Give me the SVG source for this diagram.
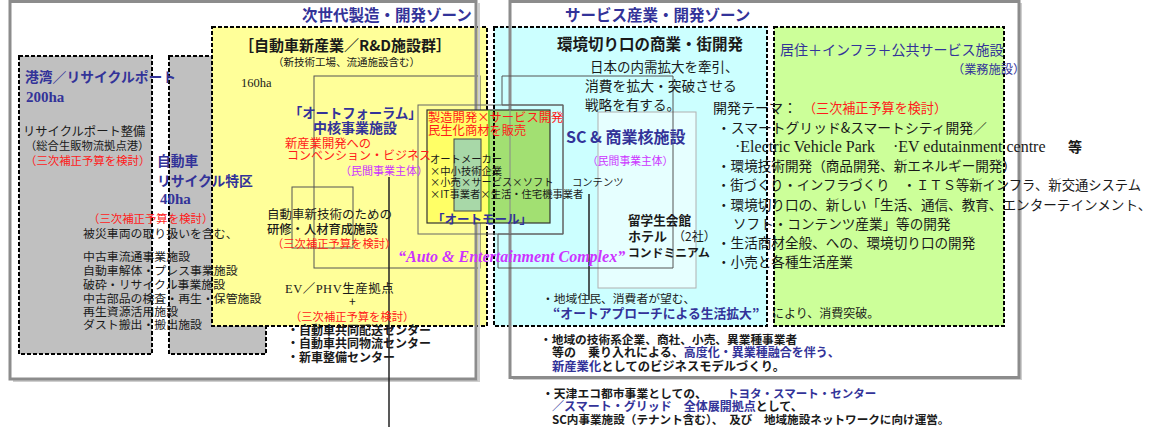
<svg xmlns="http://www.w3.org/2000/svg" width="1155" height="427" viewBox="0 0 1155 427">
<style>
text{font-family:'Noto Sans CJK JP',sans-serif;fill:#1a1a1a}
.b{font-weight:bold}
.nv{fill:#333399}
.rd{fill:#ff1a1a}
.pp{fill:#cc33ff}
.sf{font-family:'Liberation Serif','Noto Sans CJK JP',serif}
.dash{stroke:#000;stroke-width:2;stroke-dasharray:4 2}
.frame{fill:none;stroke:#8c8c8c;stroke-width:3}
.shadow{fill:none;stroke:#cfcfcf;stroke-width:2}
.edge{fill:none;stroke:#555;stroke-width:1}
.conn{stroke:#222;stroke-width:1.5;fill:none}
</style>
<rect width="1155" height="427" fill="#fff"/>

<!-- dashed zones -->
<g id="port">
<rect x="19" y="56" width="133" height="298" fill="#c0c0c0" class="dash"/>
</g>
<g id="recycle-zone">
<rect x="169" y="56" width="97" height="298" fill="#c0c0c0" class="dash"/>
</g>
<g id="rd-zone">
<rect x="212" y="27" width="275" height="299" fill="#ffff99" class="dash"/>
</g>
<g id="commerce-zone">
<rect x="494" y="27" width="273" height="299" fill="#ccffff" class="dash"/>
<rect x="598" y="112" width="98" height="176" fill="#e6ffff" stroke="#b0b0b0" stroke-width="1"/>
</g>
<g id="residential-zone">
<rect x="774" y="27" width="230" height="299" fill="#ccff99" class="dash"/>
</g>

<g id="auto-forum">
<rect x="314" y="76" width="166" height="192" fill="#ffe699" class="edge"/>
</g>
<g id="training">
<rect x="292" y="187" width="61" height="61" fill="#ffffff" class="edge"/>
</g>

<!-- frames -->
<g id="frames">
<polyline points="13,381 479,381 479,3" class="shadow"/>
<polyline points="513,379 1021,379 1021,3" class="shadow"/>
<rect x="10" y="1.5" width="466" height="377.5" class="frame"/>
<rect x="510" y="1.5" width="509" height="376" class="frame"/>
</g>

<g id="sc">
<polygon points="502,76 673,76 673,268 498,268 498,234 563,234 563,105 502,105" fill="#ffccff" class="edge"/>
<rect x="418" y="105" width="145" height="129" fill="none" stroke="#666" stroke-width="1"/>
</g>

<g id="auto-mall">
<rect x="427" y="110" width="63" height="113" fill="#ffff66"/>
<rect x="490" y="110" width="60" height="113" fill="#a2e072"/>
<rect x="427" y="110" width="123" height="113" fill="none" stroke="#333" stroke-width="1.2"/>
<line x1="489" y1="110" x2="489" y2="223" stroke="#55bb22" stroke-width="1.5"/>
<line x1="494" y1="105" x2="494" y2="223" class="dash" stroke-width="1.5"/>
<line x1="510" y1="105" x2="510" y2="234" stroke="#888" stroke-width="1"/>
<rect x="454" y="139" width="27" height="72" fill="#a8d8a8" stroke="#444" stroke-width="1"/>
</g>

<g id="connectors">
<line x1="389" y1="177" x2="389" y2="427" class="conn"/>
<line x1="589" y1="194" x2="589" y2="300" class="conn" stroke="#444" stroke-width="1.2"/>
</g>

<!-- zone titles -->
<g id="titles">
<text x="302" y="20.5" font-size="15.5" class="b nv">次世代製造・開発ゾーン</text>
<text x="565" y="20.5" font-size="15.5" class="b nv">サービス産業・開発ゾーン</text>
</g>

<!-- port texts -->
<g id="port-text">
<text x="25" y="82" font-size="13.8" class="b nv">港湾／リサイクルポート</text>
<text x="26" y="101.5" font-size="15" class="b nv sf">200ha</text>
<text x="23" y="136" font-size="12.3">リサイクルポート整備</text>
<text x="25" y="149.5" font-size="11.3">（総合生販物流拠点港）</text>
<text x="25" y="164.5" font-size="11.4" class="rd">（三次補正予算を検討）</text>
</g>

<g id="recycle-text">
<text x="157" y="166" font-size="13.8" class="b nv">自動車</text>
<text x="157" y="185.5" font-size="13.8" class="b nv">リサイクル特区</text>
<text x="160" y="204" font-size="15" class="b nv sf">40ha</text>
<text x="88" y="222.5" font-size="11.4" class="rd">（三次補正予算を検討）</text>
<text x="83" y="237.5" font-size="11.9">被災車両の取り扱いを含む、</text>
<text x="83" y="261" font-size="11.9">中古車流通事業施設</text>
<text x="83" y="275" font-size="11.9">自動車解体・プレス事業施設</text>
<text x="83" y="289" font-size="11.9">破砕・リサイクル事業施設</text>
<text x="83" y="302.5" font-size="11.9">中古部品の検査・再生・保管施設</text>
<text x="83" y="315.5" font-size="11.9">再生資源活用施設</text>
<text x="83" y="329" font-size="11.9">ダスト搬出・搬出施設</text>
</g>

<g id="rd-text">
<text x="239" y="50.5" font-size="15" class="b">［自動車新産業／R&amp;D施設群］</text>
<text x="273" y="66" font-size="10.5">（新技術工場、流通施設含む）</text>
<text x="241" y="86.5" font-size="12.5" class="sf">160ha</text>
<text x="285" y="293" font-size="12.5" class="sf" letter-spacing="0.5">EV／PHV生産拠点</text>
<text x="349" y="306" font-size="12">+</text>
<text x="290" y="321" font-size="11.3" class="rd">（三次補正予算を検討）</text>
<text x="287" y="334.5" font-size="12" class="b">・自動車共同配送センター</text>
<text x="287" y="348" font-size="12" class="b">・自動車共同物流センター</text>
<text x="287" y="361.5" font-size="12" class="b">・新車整備センター</text>
</g>

<g id="forum-text">
<text x="289" y="118" font-size="13.3" class="b nv">「オートフォーラム」</text>
<text x="313" y="133" font-size="14" class="b nv">中核事業施設</text>
<text x="285" y="148" font-size="12.3" class="rd">新産業開発への</text>
<text x="287" y="160" font-size="12" class="rd">コンベンション・ビジネス</text>
<text x="340" y="174.5" font-size="11" class="pp">（民間事業主体）</text>
</g>

<g id="training-text">
<text x="267" y="218.5" font-size="12.5">自動車新技術のための</text>
<text x="267" y="233.5" font-size="12.3" style="font-weight:500">研修・人材育成施設</text>
<text x="272" y="247.5" font-size="11.3" class="rd">（三次補正予算を検討）</text>
</g>

<g id="mall-text">
<text x="428" y="121.5" font-size="12.3" class="rd">製造開発×サービス開発</text>
<text x="428" y="134.5" font-size="12.3" class="rd">民生化商材を販売</text>
<text x="430" y="163" font-size="10.3">オートメーカー</text>
<text x="430" y="174.5" font-size="10.3">×中小技術企業</text>
<text x="430" y="186" font-size="10.3">×小売×サービス×ソフト</text>
<text x="572" y="186" font-size="10.3">コンテンツ</text>
<text x="430" y="197.5" font-size="10.3">×IT事業者×生活・住宅機事業者</text>
<text x="432" y="224" font-size="12.5" class="b nv">「オートモール」</text>
</g>

<text x="398" y="262" font-size="16" class="sf pp" font-style="italic" font-weight="bold">“Auto &amp; Entertainment Complex”</text>

<g id="commerce-text">
<text x="557" y="49.5" font-size="15.5" class="b">環境切り口の商業・街開発</text>
<text x="590" y="72" font-size="13.5">日本の内需拡大を牽引、</text>
<text x="585" y="91" font-size="13.8">消費を拡大・突破させる</text>
<text x="585" y="109.5" font-size="13.6">戦略を有する。</text>
</g>

<g id="sc-text">
<text x="566" y="143" font-size="16" class="b nv">SC &amp; 商業核施設</text>
<text x="587" y="164.5" font-size="10.8" class="pp">（民間事業主体）</text>
<text x="628" y="225" font-size="12.6" class="b">留学生会館</text>
<text x="628" y="241" font-size="13" class="b">ホテル</text>
<text x="673" y="241" font-size="12">（2社）</text>
<text x="628" y="257" font-size="11.8" class="b">コンドミニアム</text>
</g>

<g id="theme-text">
<text x="713" y="112.5" font-size="14">開発テーマ：</text>
<text x="803" y="113" font-size="13.1" class="rd">（三次補正予算を検討）</text>
<text x="717" y="133" font-size="13.8">・スマートグリッド&amp;スマートシティ開発／</text>
<text x="735" y="152" font-size="16" class="sf">·Electric Vehicle Park</text>
<text x="893" y="152" font-size="16" class="sf">·EV edutainment centre</text>
<text x="1068" y="152" font-size="14" class="b">等</text>
<text x="717" y="170.5" font-size="13.6">・環境技術開発（商品開発、新エネルギー開発）</text>
<text x="717" y="190" font-size="13.3">・街づくり・インフラづくり　・ＩＴＳ等新インフラ、新交通システム</text>
<text x="717" y="210" font-size="13.6">・環境切り口の、新しい「生活、通信、教育、エンターテインメント、</text>
<text x="733" y="229" font-size="13.6">ソフト・コンテンツ産業」等の開発</text>
<text x="717" y="248" font-size="13.6">・生活商材全般、への、環境切り口の開発</text>
<text x="717" y="267" font-size="13.6">・小売と各種生活産業</text>
</g>

<g id="residential-text">
<text x="780" y="55" font-size="14" class="nv">居住＋インフラ＋公共サービス施設</text>
<text x="952" y="74" font-size="12.2" class="nv">（業務施設）</text>
</g>

<g id="bottom-text">
<text x="542" y="302.5" font-size="11.8">・地域住民、消費者が望む、</text>
<text x="553" y="317.5" font-size="12.8" class="b nv">“オートアプローチによる生活拡大”</text>
<text x="772" y="317.5" font-size="12">により、消費突破。</text>
<text x="540" y="343.5" font-size="11.7" class="b">・地域の技術系企業、商社、小売、異業種事業者</text>
<text x="552" y="357" font-size="12" class="b">等の　乗り入れによる、<tspan class="nv">高度化・異業種融合を伴う、</tspan></text>
<text x="552" y="371" font-size="12.3" class="b"><tspan class="nv">新産業化</tspan>としてのビジネスモデルづくり。</text>
<text x="542" y="397.5" font-size="11.8" class="b">・天津エコ都市事業としての、</text>
<text x="727" y="397.5" font-size="11.5" class="b nv">トヨタ・スマート・センター</text>
<text x="552" y="411" font-size="12" class="b"><tspan class="nv">／スマート・グリッド　全体展開拠点</tspan>として、</text>
<text x="552" y="423.5" font-size="11.6" class="b">SC内事業施設（テナント含む）、　及び　地域施設ネットワークに向け運営。</text>
</g>
</svg>
